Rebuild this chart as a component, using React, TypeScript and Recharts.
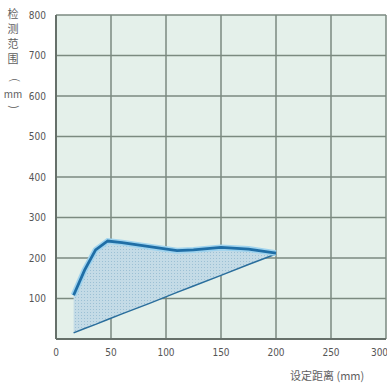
import {
  Area,
  CartesianGrid,
  ComposedChart,
  Line,
  XAxis,
  YAxis,
} from "recharts";

// set distance (mm)
const distances = [16, 26, 36, 47, 60, 85, 110, 125, 150, 175, 200];
// upper edge of detection range (mm)
const upperRange = [108, 170, 220, 242, 238, 228, 218, 220, 226, 222, 212];
// lower edge of detection range (mm)
const lowerRange = [15, 26, 36, 48, 62, 88, 115, 131, 157, 184, 210];

const xTicks = [0, 50, 100, 150, 200, 250, 300];
const yTicks = [0, 100, 200, 300, 400, 500, 600, 700, 800];

const yTitle = ["检", "测", "范", "围"];

const data = distances.map((x, i) => ({
  x,
  hi: upperRange[i],
  lo: lowerRange[i],
}));

const tickStyle = {
  fontSize: 10,
  fill: "#555",
  fontFamily: "'Liberation Sans Narrow', 'DejaVu Sans Condensed', sans-serif",
};

function YTitle() {
  return (
    <g fontFamily="'Noto Sans CJK SC', sans-serif" fill="#5e5e5e" fontSize={11}>
      {yTitle.map((c, i) => (
        <text key={c} x={13} y={18 + i * 15} textAnchor="middle">
          {c}
        </text>
      ))}
      <text x={13} y={82} textAnchor="middle" transform="rotate(90 13 80)">
        (
      </text>
      <text x={13} y={98} textAnchor="middle" fontSize={10}>
        mm
      </text>
      <text x={13} y={110} textAnchor="middle" transform="rotate(90 13 107)">
        )
      </text>
    </g>
  );
}

export default function App() {
  return (
    <div
      style={{
        position: "absolute",
        left: 0,
        top: 0,
        width: 387,
        height: 387,
        overflow: "hidden",
        background: "#fff",
      }}
    >
      <ComposedChart
        width={387}
        height={387}
        data={data}
        margin={{ top: 15, right: 1, left: 0, bottom: 28 }}
      >
        <defs>
          <pattern id="dots" width="3" height="3" patternUnits="userSpaceOnUse">
            <rect width="3" height="3" fill="#c4dbe6" />
            <rect width="1" height="1" fill="#9cc0d4" />
          </pattern>
        </defs>
        <CartesianGrid stroke="#7b8a80" strokeWidth={1.5} fill="#e4f0ea" />
        <XAxis
          dataKey="x"
          type="number"
          domain={[0, 300]}
          ticks={xTicks}
          tick={tickStyle}
          tickLine={false}
          axisLine={{ stroke: "#66706a", strokeWidth: 2 }}
          height={20}
          tickMargin={4}
        />
        <YAxis
          type="number"
          domain={[0, 800]}
          ticks={yTicks}
          tickFormatter={(v: number) => (v === 0 ? "" : String(v))}
          tick={tickStyle}
          tickLine={false}
          axisLine={{ stroke: "#66706a", strokeWidth: 2 }}
          width={56}
          tickMargin={4}
        />
        <Area
          dataKey={(d: { lo: number; hi: number }) => [d.lo, d.hi]}
          type="linear"
          stroke="none"
          fill="url(#dots)"
          fillOpacity={1}
          isAnimationActive={false}
        />
        <Line
          dataKey="lo"
          type="linear"
          stroke="#2a6e9c"
          strokeWidth={1.5}
          dot={false}
          isAnimationActive={false}
        />
        <Line
          dataKey="hi"
          type="linear"
          stroke="#9fd3ee"
          strokeWidth={6}
          dot={false}
          isAnimationActive={false}
        />
        <Line
          dataKey="hi"
          type="linear"
          stroke="#1f6ea6"
          strokeWidth={2.8}
          dot={false}
          isAnimationActive={false}
        />
        <YTitle />
        <text
          x={290}
          y={380}
          fontSize={11}
          fill="#5e5e5e"
          fontFamily="'Noto Sans CJK SC', sans-serif"
        >
          设定距离 (mm)
        </text>
      </ComposedChart>
    </div>
  );
}
